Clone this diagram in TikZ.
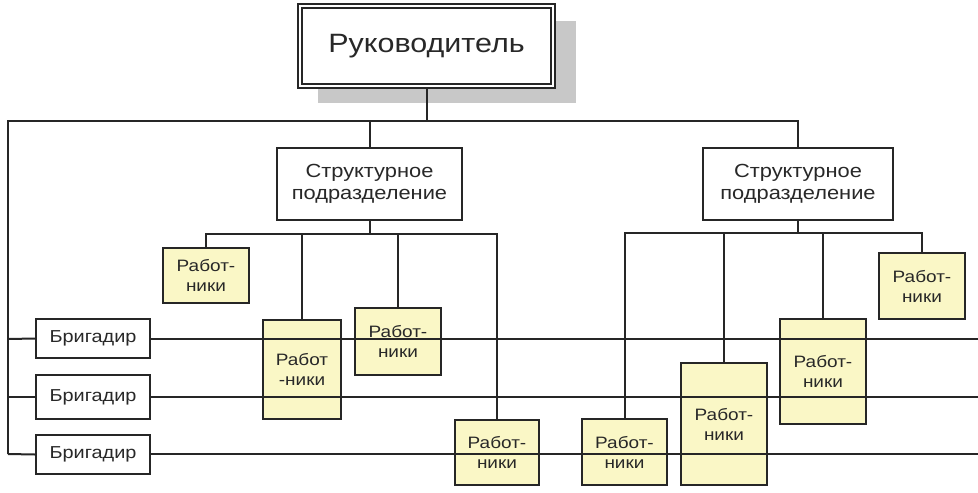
\documentclass[tikz,border=0pt]{standalone}
\usepackage{fontspec}
\setmainfont[FakeStretch=1.15]{Liberation Sans}
\definecolor{wfill}{RGB}{250,247,198}
\definecolor{txt}{RGB}{40,40,40}
\definecolor{shadowgray}{RGB}{200,200,200}
\begin{document}
\begin{tikzpicture}[x=1pt,y=-1pt,
  line width=2pt,
  conn/.style={draw=black!85, line width=2pt},
  sbox/.style={draw=black!85, fill=white, line width=2pt, rectangle, align=center, inner sep=0pt, text=txt, font=\fontsize{19}{22}\selectfont},
  bbox/.style={draw=black!85, fill=white, line width=2pt, rectangle, align=center, inner sep=0pt, text=txt, font=\fontsize{17.3}{20}\selectfont},
  wbox/.style={draw=black!85, fill=wfill, line width=2pt, rectangle, align=center, inner sep=0pt, text=txt, font=\fontsize{16.5}{20}\selectfont}]
\useasboundingbox (0,0) rectangle (978,493);
% top box with shadow
\fill[shadowgray] (318,21) rectangle (576,103);
\node[draw=black!85, fill=white, line width=2pt, minimum width=257pt, minimum height=84pt, inner sep=0pt] (top) at (426.5,46) {};
\draw[black!85, line width=1.7pt] (302,8) rectangle (551,84);
\node[text=txt, font=\fontsize{26.5}{30}\selectfont] (toptxt) at (426.5,46) {Руководитель};
% structural units
\node[sbox, minimum width=185pt, minimum height=72pt] (sp1) at (369.5,184) {Структурное\\подразделение};
\node[sbox, minimum width=190pt, minimum height=72pt] (sp2) at (798,184) {Структурное\\подразделение};
% brigadiers
\node[bbox, minimum width=114pt, minimum height=39pt] (br1) at (93,338.5) {Бригадир};
\node[bbox, minimum width=114pt, minimum height=44pt] (br2) at (93,397) {Бригадир};
\node[bbox, minimum width=114pt, minimum height=39pt] (br3) at (93,454.5) {Бригадир};
% workers
\node[wbox, minimum width=86pt, minimum height=55pt] (w1) at (206,275.5) {Работ-\\ники};
\node[wbox, minimum width=78pt, minimum height=99pt] (w2) at (302,369.5) {Работ\\-ники};
\node[wbox, minimum width=86pt, minimum height=67pt] (w3) at (398,341.5) {Работ-\\ники};
\node[wbox, minimum width=84pt, minimum height=65pt] (w4) at (497,452.5) {Работ-\\ники};
\node[wbox, minimum width=85pt, minimum height=66pt] (w5) at (624.5,452) {Работ-\\ники};
\node[wbox, minimum width=86pt, minimum height=122pt] (w6) at (724,424) {Работ-\\ники};
\node[wbox, minimum width=86pt, minimum height=105pt] (w7) at (823,371.5) {Работ-\\ники};
\node[wbox, minimum width=86pt, minimum height=66pt] (w8) at (922,286) {Работ-\\ники};
% bus coordinates
\coordinate (topbus) at (426.5,121);
\coordinate (lefttop) at (8,121);
\coordinate (bus1) at (369.5,234);
\coordinate (bus2) at (798,233);
\coordinate (e1) at (978,339);
\coordinate (e2) at (978,397);
\coordinate (e3) at (978,454);
\coordinate (l1) at (8,339);
\coordinate (l2) at (8,397);
\coordinate (l3) at (8,454);
% top connectors
\draw[conn] (top.south) -- (topbus);
\draw[conn] (l3) -- (lefttop) -| (sp2.north);
\draw[conn] (sp1.north) -- (sp1.north |- lefttop);
% sp1 children
\draw[conn] (sp1.south) -- (bus1);
\draw[conn] (w1.north) |- (w4.north |- bus1) -- (w4.north);
\draw[conn] (w2.north) -- (w2.north |- bus1);
\draw[conn] (w3.north) -- (w3.north |- bus1);
% sp2 children
\draw[conn] (sp2.south) -- (bus2);
\draw[conn] (w5.north) |- (w8.north |- bus2) -- (w8.north);
\draw[conn] (w6.north) -- (w6.north |- bus2);
\draw[conn] (w7.north) -- (w7.north |- bus2);
% brigadier lines
\draw[conn] (l1) -- (br1.west);
\draw[conn] (l2) -- (br2.west);
\draw[conn] (l3) -- (br3.west);
\draw[conn] (br1.east |- e1) -- (e1);
\draw[conn] (br2.east |- e2) -- (e2);
\draw[conn] (br3.east |- e3) -- (e3);
\end{tikzpicture}
\end{document}
